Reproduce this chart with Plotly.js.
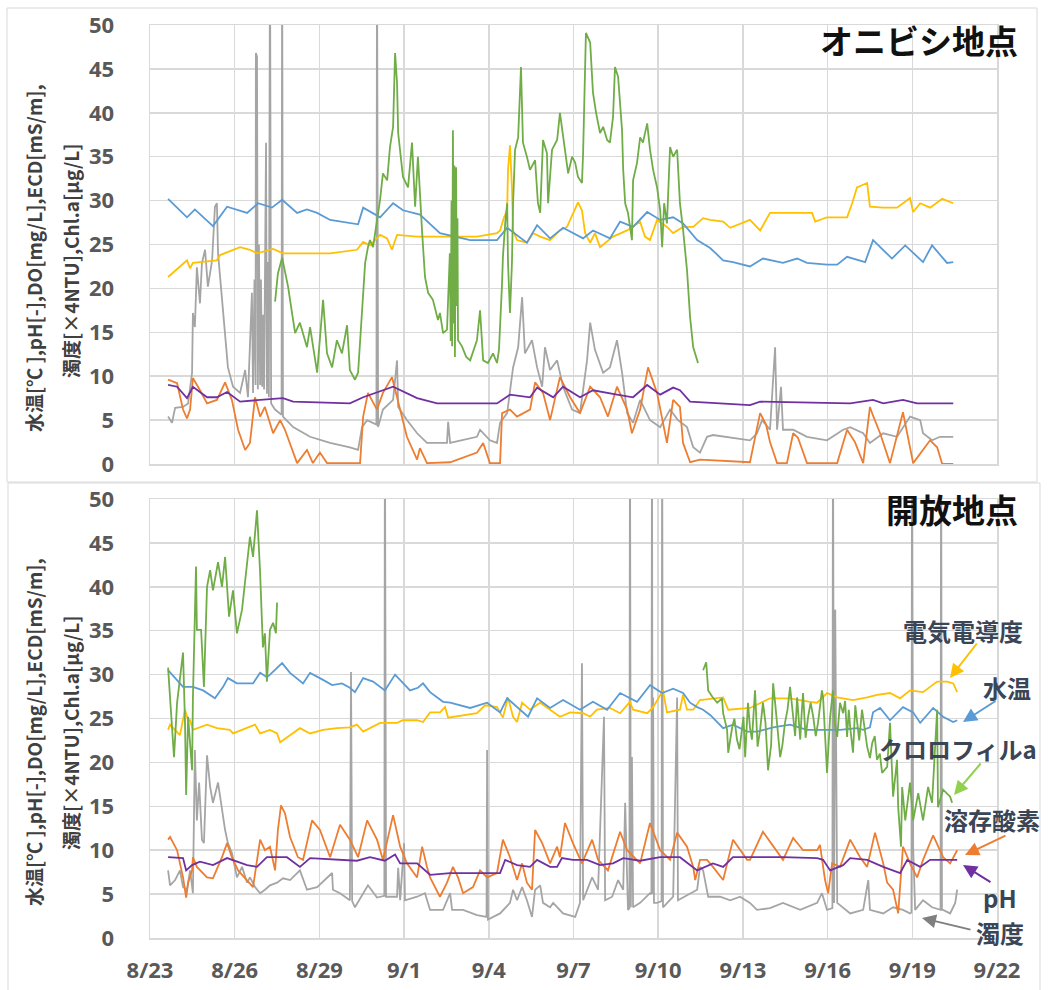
<!DOCTYPE html>
<html>
<head>
<meta charset="utf-8">
<script src="https://cdn.plot.ly/plotly-3.0.1.min.js"></script>
<style>html,body{margin:0;padding:0;background:#fff;}#chart{width:1051px;height:990px;}</style>
</head>
<body>
<div id="chart"></div>
<script>
// ---- axis ticks (days since 8/23) ----
const tickDays = [0,3,6,9,12,15,18,21,24,27,30];
const tickLabels = ['8/23','8/26','8/29','9/1','9/4','9/7','9/10','9/13','9/16','9/19','9/22'];
const yTicks = [0,5,10,15,20,25,30,35,40,45,50];

// ---- オニビシ地点 : [day, value] ----
const oniTemp = [[0.64,30.2],[1.31,28.1],[1.59,29.0],[2.23,27.1],[2.73,29.3],[3.44,28.6],[3.83,29.7],[4.32,29.2],[4.68,30.1],[5.21,28.6],[5.56,29.0],[5.92,28.6],[6.38,27.8],[7.19,27.4],[7.37,27.3],[7.55,29.2],[8.15,28.1],[8.61,29.7],[8.96,28.9],[9.56,28.4],[10.27,26.3],[11.34,25.5],[12.29,25.5],[12.65,26.9],[13.35,25.2],[13.71,27.2],[14.17,25.7],[14.63,26.9],[15.34,25.7],[15.69,26.6],[16.29,25.7],[16.65,27.6],[17.11,27.0],[17.61,28.7],[18.07,27.8],[18.53,28.1],[18.88,27.4],[19.38,25.5],[19.84,24.6],[20.30,23.2],[20.65,23.0],[21.25,22.5],[21.50,23.0],[21.71,23.4],[22.42,22.9],[22.92,23.4],[23.27,22.9],[23.98,22.7],[24.34,22.7],[24.69,23.6],[25.33,23.0],[25.61,25.5],[26.28,23.4],[26.75,24.9],[27.38,23.0],[27.70,24.9],[28.23,22.9],[28.45,23.0]];
const oniEcd = [[0.64,21.3],[1.31,23.2],[1.42,22.3],[1.52,22.9],[2.37,23.2],[2.48,23.8],[3.19,24.7],[3.54,24.4],[3.79,24.0],[4.36,24.5],[4.71,24.0],[6.38,24.0],[7.33,24.4],[7.55,25.3],[7.79,24.9],[8.15,26.1],[8.40,25.7],[8.57,24.4],[8.75,26.1],[9.46,25.9],[10.27,25.9],[11.58,25.9],[12.29,26.3],[12.40,26.6],[12.54,28.1],[12.65,28.9],[12.68,33.5],[12.75,36.3],[12.82,31.5],[12.86,26.6],[13.00,25.5],[13.35,25.2],[13.57,26.3],[13.82,25.9],[14.17,25.5],[14.52,26.6],[14.77,27.0],[14.98,28.6],[15.16,29.8],[15.30,28.9],[15.41,26.3],[15.59,25.2],[15.76,26.3],[15.94,24.7],[16.40,25.9],[16.90,26.6],[17.36,27.6],[17.53,25.9],[17.71,25.5],[17.96,27.8],[18.31,27.0],[18.53,26.3],[18.88,27.0],[19.24,27.0],[19.59,28.0],[19.84,27.8],[20.30,27.6],[20.55,26.9],[21.25,27.8],[21.61,26.6],[21.96,28.6],[23.03,28.6],[23.45,28.6],[23.56,27.6],[23.98,28.1],[24.69,28.1],[24.87,29.7],[25.04,31.5],[25.40,32.0],[25.50,29.3],[25.97,29.2],[26.46,29.2],[26.92,30.3],[27.03,28.7],[27.28,29.7],[27.63,29.2],[28.06,30.2],[28.45,29.7]];
const oniPh = [[0.64,9.0],[0.96,8.8],[1.31,7.5],[1.52,8.8],[2.02,7.6],[2.37,7.6],[2.73,8.2],[3.19,7.1],[3.90,7.3],[4.71,7.5],[5.07,7.1],[7.08,6.9],[7.55,7.6],[8.61,8.8],[9.46,7.5],[10.17,6.9],[12.29,6.9],[12.75,7.9],[13.46,7.6],[13.71,8.7],[14.28,7.6],[14.63,8.8],[15.23,7.6],[15.69,8.4],[16.54,7.9],[17.11,7.6],[17.61,9.0],[18.07,7.9],[18.53,8.7],[18.77,8.4],[19.13,7.1],[20.09,6.9],[21.25,6.7],[21.61,7.1],[24.80,6.9],[25.61,7.3],[25.97,6.9],[26.67,7.3],[27.17,6.9],[28.45,6.9]];
const oniDo = [[0.64,9.6],[0.96,9.2],[1.17,6.2],[1.31,5.2],[1.42,6.2],[1.52,9.8],[1.77,8.4],[2.02,6.9],[2.37,7.3],[2.66,9.3],[2.90,7.3],[3.12,3.9],[3.37,1.6],[3.54,2.4],[3.72,7.6],[3.90,5.4],[4.07,6.5],[4.36,3.5],[4.61,5.0],[4.78,3.9],[5.21,0.1],[5.56,1.6],[5.77,0.1],[6.02,1.3],[6.27,0.1],[7.33,0.1],[7.44,0.1],[7.55,5.4],[7.72,8.1],[8.04,6.2],[8.25,8.1],[8.57,9.9],[8.75,7.6],[9.10,3.1],[9.46,0.5],[9.56,1.8],[9.81,0.1],[10.63,0.2],[11.58,1.3],[11.80,2.4],[12.04,0.1],[12.40,0.1],[12.47,5.8],[12.75,6.2],[13.00,5.4],[13.46,6.2],[13.64,9.3],[13.92,8.1],[14.17,5.0],[14.52,9.9],[14.88,7.6],[15.23,5.8],[15.59,8.8],[15.94,7.6],[16.22,5.4],[16.54,8.8],[16.90,6.2],[17.07,3.5],[17.36,6.2],[17.64,11.0],[17.96,8.1],[18.31,2.4],[18.53,7.3],[18.77,6.5],[18.88,2.4],[19.13,0.2],[19.48,0.5],[21.25,0.2],[21.61,5.8],[21.82,4.5],[21.96,2.5],[22.21,0.1],[22.56,0.1],[22.78,3.5],[22.95,3.0],[23.27,0.1],[24.34,0.1],[24.69,3.9],[24.97,2.5],[25.26,0.1],[25.50,6.5],[25.61,5.5],[25.86,3.5],[26.21,0.1],[26.67,5.9],[26.78,4.0],[27.03,0.1],[27.63,2.7],[27.88,1.9],[28.06,0.0],[28.45,0.0]];
const oniChl = [[4.43,18.5],[4.53,21.7],[4.68,23.5],[4.78,21.7],[4.89,20.2],[5.03,17.2],[5.14,14.9],[5.31,16.1],[5.56,13.3],[5.67,15.6],[5.92,10.4],[6.13,18.7],[6.27,12.6],[6.45,11.0],[6.62,14.1],[6.80,12.6],[6.98,15.8],[7.08,10.7],[7.26,9.6],[7.37,10.4],[7.51,17.5],[7.62,22.9],[7.72,24.7],[7.79,25.5],[7.90,24.7],[8.15,30.1],[8.25,33.1],[8.40,32.3],[8.50,36.1],[8.61,38.4],[8.68,46.8],[8.75,43.4],[8.79,37.7],[8.96,32.7],[9.14,31.5],[9.28,36.6],[9.39,29.3],[9.49,35.0],[9.64,26.3],[9.74,21.3],[9.85,19.5],[10.02,18.7],[10.20,16.4],[10.27,17.2],[10.38,14.9],[10.52,15.3],[10.62,24.0],[10.65,14.0],[10.68,30.0],[10.70,13.4],[10.73,38.0],[10.76,16.0],[10.78,34.0],[10.80,12.2],[10.84,33.8],[10.87,18.0],[10.89,28.0],[10.91,14.1],[11.05,13.4],[11.20,12.2],[11.34,11.8],[11.58,14.1],[11.69,17.5],[11.80,11.8],[11.97,11.5],[12.15,12.6],[12.29,11.5],[12.36,13.0],[12.47,20.6],[12.50,23.6],[12.58,27.4],[12.65,29.7],[12.68,22.9],[12.75,17.2],[12.82,22.9],[12.86,29.7],[12.93,35.8],[13.04,37.2],[13.14,45.2],[13.21,36.6],[13.35,35.0],[13.46,33.5],[13.64,34.6],[13.74,29.7],[13.82,28.6],[13.92,36.9],[14.06,35.4],[14.10,29.7],[14.24,35.8],[14.42,36.9],[14.52,40.0],[14.63,37.2],[14.77,33.8],[14.81,33.1],[14.95,35.0],[15.06,34.3],[15.16,32.7],[15.30,32.0],[15.34,35.4],[15.44,49.1],[15.59,48.0],[15.69,42.3],[15.80,40.0],[15.94,37.7],[16.05,38.4],[16.19,36.9],[16.29,36.6],[16.40,39.5],[16.47,45.2],[16.58,44.1],[16.72,38.0],[16.76,33.5],[16.83,29.7],[16.93,28.6],[17.07,25.5],[17.11,32.3],[17.25,34.3],[17.36,37.2],[17.46,36.6],[17.61,38.8],[17.71,35.8],[17.82,33.5],[17.96,31.5],[18.07,28.9],[18.14,24.7],[18.21,29.7],[18.31,27.4],[18.42,36.1],[18.53,35.0],[18.67,35.8],[18.77,29.7],[18.88,26.7],[19.02,22.1],[19.13,16.7],[19.24,13.3],[19.41,11.5]];
const oniTurb = [[0.64,5.4],[0.78,4.7],[0.89,6.4],[1.17,6.5],[1.35,6.9],[1.49,10.4],[1.52,17.2],[1.59,15.6],[1.66,22.4],[1.77,18.3],[1.84,22.9],[1.95,24.4],[2.05,20.2],[2.20,23.2],[2.30,29.3],[2.37,29.7],[2.41,24.0],[2.55,19.0],[2.66,15.3],[2.76,11.0],[2.94,8.8],[3.19,8.1],[3.37,10.7],[3.47,7.6],[3.61,19.5],[3.65,8.1],[3.70,21.0],[3.74,9.0],[3.75,46.8],[3.79,46.4],[3.82,8.5],[3.86,25.0],[3.90,9.0],[3.93,21.0],[3.97,8.8],[4.00,17.0],[4.04,8.5],[4.11,36.6],[4.14,8.0],[4.18,23.0],[4.21,7.6],[4.25,60],[4.29,6.9],[4.43,6.2],[4.66,5.6],[4.68,60],[4.71,5.4],[5.07,4.2],[5.67,3.1],[6.38,2.4],[7.08,1.9],[7.37,1.6],[7.51,4.2],[7.69,5.0],[8.02,4.5],[8.04,60],[8.08,4.2],[8.25,6.2],[8.61,7.3],[8.75,11.8],[8.79,6.5],[9.10,5.0],[9.46,3.5],[9.81,2.4],[10.52,2.4],[10.56,4.8],[10.63,2.4],[11.58,3.1],[11.69,3.9],[12.04,2.7],[12.29,2.4],[12.40,4.7],[12.65,5.8],[12.86,11.0],[13.04,13.3],[13.18,19.0],[13.28,12.6],[13.53,14.1],[13.71,11.0],[13.89,8.8],[13.99,13.3],[14.17,10.7],[14.42,11.8],[14.63,8.8],[14.95,6.2],[15.23,5.8],[15.48,11.8],[15.59,16.1],[15.76,13.0],[16.05,10.4],[16.29,11.0],[16.54,14.1],[16.72,10.4],[16.90,5.8],[17.11,4.7],[17.36,7.3],[17.71,5.0],[18.07,4.2],[18.42,6.2],[18.70,5.0],[19.02,4.2],[19.24,1.9],[19.48,1.3],[19.73,3.1],[19.94,3.3],[20.44,3.1],[21.25,2.7],[21.50,3.5],[21.68,5.0],[21.96,3.9],[22.14,13.3],[22.21,3.9],[22.35,8.8],[22.42,3.9],[22.78,3.9],[23.27,3.1],[23.98,2.7],[24.55,3.9],[24.80,4.2],[25.26,3.5],[25.50,2.4],[25.97,3.5],[26.46,3.1],[26.92,5.4],[27.28,5.0],[27.38,3.5],[27.70,2.7],[27.98,3.1],[28.45,3.1]];

// ---- 開放地点 : [day, value] ----
const kaiTemp = [[0.64,30.5],[1.17,28.6],[1.52,28.6],[1.88,28.2],[2.30,27.3],[2.59,28.6],[2.76,29.6],[3.08,29.0],[3.65,29.0],[3.90,30.2],[4.14,29.7],[4.25,30.0],[4.68,31.3],[4.96,30.2],[5.42,29.0],[5.67,30.2],[6.13,29.4],[6.45,28.8],[6.80,29.0],[7.08,28.5],[7.26,28.0],[7.55,29.6],[7.90,29.2],[8.32,28.2],[8.68,30.0],[9.21,28.2],[9.49,28.5],[9.67,29.0],[9.92,28.0],[10.38,26.9],[10.63,26.8],[11.34,26.2],[11.94,26.8],[12.40,25.7],[12.65,27.3],[13.00,26.3],[13.39,25.2],[13.71,27.3],[14.17,26.2],[14.63,27.1],[15.23,26.0],[15.69,26.9],[16.19,26.0],[16.65,27.9],[17.25,26.9],[17.71,28.8],[18.14,27.9],[18.53,28.4],[18.88,27.9],[19.13,26.8],[19.38,26.3],[19.59,26.0],[19.84,25.4],[20.30,23.9],[20.65,24.3],[21.15,23.5],[21.50,23.5],[22.07,24.0],[22.67,24.3],[23.27,23.7],[23.84,23.7],[24.44,23.7],[25.04,23.9],[25.26,23.7],[25.50,24.0],[25.61,25.7],[25.86,26.2],[26.21,24.8],[26.67,26.3],[27.03,25.7],[27.28,24.5],[27.74,26.2],[28.09,25.2],[28.45,24.6],[28.59,24.8]];
const kaiEcd = [[0.64,23.7],[0.71,24.3],[1.06,23.1],[1.24,26.0],[1.35,24.8],[1.42,24.8],[1.52,23.7],[2.02,24.3],[2.37,23.9],[2.83,23.7],[2.94,23.3],[3.54,24.0],[3.72,24.3],[3.90,23.3],[4.25,23.7],[4.50,23.3],[4.61,22.3],[4.96,23.1],[5.31,23.9],[5.67,23.3],[6.13,23.7],[6.62,23.9],[7.08,24.0],[7.33,24.3],[7.55,23.5],[8.15,24.5],[8.75,24.5],[8.96,24.8],[9.46,24.8],[9.67,24.6],[9.92,25.7],[10.27,25.7],[10.45,26.3],[10.56,25.1],[11.09,25.4],[11.58,25.6],[11.87,26.5],[12.29,26.3],[12.50,25.1],[12.68,27.4],[12.86,25.2],[13.00,24.6],[13.18,26.8],[13.46,26.0],[13.82,26.8],[14.17,26.0],[14.52,25.2],[14.88,25.7],[15.34,25.6],[15.59,25.2],[15.83,26.0],[16.29,26.2],[16.65,25.6],[17.00,26.9],[17.11,26.0],[17.61,25.6],[17.82,26.3],[18.17,28.2],[18.31,25.7],[18.77,26.0],[18.88,27.7],[19.02,26.0],[19.24,26.0],[19.48,27.1],[20.30,27.4],[20.48,26.0],[21.25,26.2],[21.96,27.3],[22.67,27.3],[23.38,26.9],[23.63,26.8],[23.98,27.9],[24.34,27.4],[24.90,27.1],[25.40,27.4],[25.75,27.7],[26.21,27.9],[26.57,27.3],[26.92,28.2],[27.38,28.0],[27.88,29.2],[28.23,29.2],[28.45,29.0],[28.59,28.0]];
const kaiPh = [[0.64,9.2],[1.17,9.1],[1.28,7.7],[1.49,8.3],[1.77,8.7],[2.23,8.3],[2.73,9.1],[3.44,8.3],[3.79,8.1],[4.14,9.2],[4.85,9.2],[5.31,8.1],[5.67,9.1],[6.38,9.0],[7.33,8.8],[7.79,9.2],[8.32,8.8],[8.68,9.5],[8.86,8.5],[9.46,8.5],[9.92,7.2],[10.63,7.4],[11.69,7.4],[12.40,7.4],[12.58,8.9],[13.00,8.3],[13.46,8.1],[13.71,8.9],[14.17,8.1],[14.42,8.1],[14.59,9.1],[14.98,8.9],[15.48,8.9],[15.94,8.3],[16.40,8.5],[16.76,9.1],[17.36,8.8],[18.07,9.2],[18.77,9.2],[19.24,8.1],[19.38,7.7],[19.94,8.5],[20.30,8.1],[20.65,9.2],[21.61,9.2],[22.42,9.2],[23.63,9.1],[23.84,8.9],[24.09,7.7],[24.55,8.3],[24.80,9.1],[25.40,8.9],[25.97,8.1],[26.57,7.4],[26.82,8.9],[27.28,8.1],[27.63,8.9],[28.59,8.9]];
const kaiDo = [[0.64,11.2],[0.71,11.5],[0.96,10.0],[1.17,6.9],[1.28,4.6],[1.35,6.3],[1.49,7.7],[1.52,9.2],[1.66,8.1],[2.02,6.9],[2.23,6.8],[2.55,9.2],[2.73,10.8],[2.90,9.2],[3.12,7.7],[3.44,6.6],[3.65,5.8],[3.90,11.2],[4.07,10.0],[4.25,10.4],[4.43,7.7],[4.53,12.3],[4.64,15.1],[4.78,14.2],[4.96,11.5],[5.24,9.2],[5.42,8.9],[5.74,13.4],[6.02,12.3],[6.38,9.2],[6.73,12.9],[7.08,11.2],[7.37,9.2],[7.69,13.4],[8.04,11.2],[8.25,8.9],[8.61,14.0],[8.86,10.4],[9.10,8.5],[9.46,6.9],[9.64,10.4],[9.81,8.1],[9.92,6.9],[10.27,4.7],[10.52,6.3],[10.73,8.1],[10.91,6.9],[11.09,5.1],[11.44,5.8],[11.69,7.7],[11.94,6.9],[12.29,7.4],[12.50,11.2],[12.75,9.2],[13.00,6.6],[13.18,8.5],[13.35,6.3],[13.53,5.5],[13.64,12.3],[13.89,10.8],[14.17,8.5],[14.42,10.4],[14.52,9.2],[14.70,13.1],[14.98,10.8],[15.30,8.5],[15.66,11.2],[15.87,8.9],[16.22,7.7],[16.65,12.1],[16.90,10.0],[17.36,8.5],[17.71,13.1],[18.07,10.0],[18.42,8.9],[18.67,12.0],[19.02,10.4],[19.24,8.1],[19.31,6.6],[19.48,8.9],[19.73,8.9],[19.94,8.1],[20.30,6.6],[20.65,11.2],[21.15,8.9],[21.25,8.9],[21.71,12.1],[22.42,8.9],[22.78,11.4],[23.13,10.0],[23.63,10.0],[23.73,10.6],[23.91,6.6],[24.02,5.1],[24.16,8.5],[24.44,8.1],[24.80,11.2],[25.15,9.2],[25.40,8.1],[25.68,12.0],[25.97,8.5],[26.11,6.3],[26.32,5.5],[26.50,2.8],[26.67,10.4],[26.92,8.5],[27.17,6.9],[27.38,8.9],[27.74,11.7],[28.09,9.2],[28.34,8.5],[28.59,10.0]];
const kaiChlA = [[0.64,30.8],[0.78,24.5],[0.85,20.6],[0.96,26.8],[1.06,29.7],[1.17,32.5],[1.24,24.5],[1.28,16.3],[1.35,25.2],[1.49,19.1],[1.52,27.4],[1.63,42.3],[1.66,35.1],[1.81,35.1],[1.91,28.6],[2.02,40.0],[2.13,41.9],[2.23,39.6],[2.41,42.8],[2.55,40.0],[2.66,43.4],[2.80,36.6],[2.94,39.6],[3.08,34.7],[3.26,37.4],[3.44,42.3],[3.54,45.7],[3.65,43.4],[3.79,48.7],[3.90,41.6],[4.00,33.1],[4.07,34.7],[4.14,29.2],[4.25,35.1],[4.36,35.9],[4.46,34.7],[4.50,38.2]];
const kaiChlB = [[19.59,30.5],[19.70,31.4],[19.77,28.2],[19.91,27.5],[20.09,26.8],[20.26,27.3],[20.30,25.6],[20.44,23.7],[20.48,21.1],[20.62,24.0],[20.70,25.0],[20.79,22.6],[20.88,21.5],[20.97,23.7],[21.02,25.2],[21.08,20.6],[21.18,26.8],[21.25,24.0],[21.32,22.6],[21.43,28.2],[21.52,21.8],[21.61,23.7],[21.71,26.8],[21.80,24.5],[21.89,19.1],[22.00,22.0],[22.07,29.0],[22.15,26.5],[22.21,24.5],[22.32,20.6],[22.40,22.0],[22.49,24.5],[22.58,26.0],[22.67,28.6],[22.78,25.2],[22.85,23.0],[22.92,27.4],[23.03,22.6],[23.08,25.5],[23.13,27.9],[23.22,22.8],[23.31,25.2],[23.40,26.8],[23.49,25.2],[23.58,23.0],[23.66,24.5],[23.80,28.2],[23.84,27.4],[23.98,18.8],[24.09,25.2],[24.19,28.2],[24.25,24.5],[24.34,22.9],[24.44,26.8],[24.55,25.6],[24.62,27.0],[24.69,22.9],[24.75,26.0],[24.80,24.0],[24.90,21.1],[24.98,26.5],[25.04,24.8],[25.12,22.5],[25.22,26.0],[25.30,24.0],[25.40,21.8],[25.50,20.5],[25.58,22.2],[25.67,23.0],[25.75,20.3],[25.85,21.0],[25.93,18.8],[26.11,19.5],[26.21,24.5],[26.32,16.1],[26.46,20.3],[26.50,14.9],[26.60,10.4],[26.64,17.2],[26.75,13.4],[26.92,17.7],[27.03,13.4],[27.21,16.5],[27.38,13.4],[27.56,17.2],[27.70,15.4],[27.88,26.0],[27.91,14.9],[28.09,16.9],[28.34,16.1],[28.41,15.4]];
const kaiTurb = [[0.64,7.7],[0.71,6.0],[0.89,6.6],[1.06,7.7],[1.17,5.8],[1.31,5.5],[1.42,7.7],[1.52,5.1],[1.59,21.4],[1.66,13.4],[1.74,17.7],[1.84,11.2],[1.91,10.8],[2.02,20.8],[2.13,17.2],[2.23,15.4],[2.41,17.7],[2.55,14.6],[2.66,12.3],[2.76,10.8],[2.90,9.7],[3.08,6.9],[3.26,8.1],[3.44,6.3],[3.54,6.9],[3.72,5.8],[3.90,5.1],[4.07,5.5],[4.25,6.0],[4.50,6.3],[4.71,6.8],[4.96,6.6],[5.31,7.7],[5.56,5.5],[5.92,5.8],[6.45,7.4],[6.48,5.5],[6.73,5.1],[7.08,4.3],[7.12,30.3],[7.16,4.2],[7.26,3.5],[7.55,5.1],[7.72,6.0],[8.04,4.6],[8.30,4.8],[8.32,60],[8.36,4.7],[8.75,4.7],[8.79,8.0],[8.86,4.3],[9.00,10.8],[9.03,4.3],[9.46,4.7],[9.74,5.1],[9.92,3.2],[10.38,3.2],[10.63,5.1],[10.70,3.2],[11.09,3.2],[11.58,2.6],[11.92,2.4],[11.94,21.4],[11.97,2.1],[12.40,2.8],[12.75,4.0],[12.86,5.5],[13.00,4.3],[13.18,5.8],[13.35,4.3],[13.53,2.4],[13.64,5.5],[13.82,6.0],[13.92,4.0],[14.17,3.5],[14.28,4.0],[14.63,2.8],[14.88,2.6],[15.06,2.4],[15.23,4.0],[15.30,31.3],[15.34,4.3],[15.66,6.9],[15.87,5.5],[16.08,25.2],[16.12,4.3],[16.37,4.7],[16.58,6.6],[16.76,5.5],[16.83,15.4],[16.93,3.2],[16.98,3.4],[17.00,60],[17.03,3.5],[17.07,20.6],[17.11,3.5],[17.36,4.0],[17.71,5.1],[17.76,5.0],[17.78,60],[17.80,5.0],[17.82,27.4],[17.85,4.0],[17.96,4.0],[18.12,4.2],[18.14,60],[18.17,3.5],[18.53,4.7],[18.67,27.4],[18.70,4.3],[19.13,5.1],[19.38,5.5],[19.48,8.1],[19.59,7.7],[19.77,4.7],[20.19,4.7],[20.55,4.3],[20.90,4.7],[21.25,4.0],[21.50,3.2],[21.96,3.4],[22.42,4.0],[23.03,3.2],[23.63,4.0],[23.80,5.1],[23.98,3.2],[24.17,3.4],[24.19,60],[24.23,4.0],[24.27,37.4],[24.34,4.0],[24.80,2.8],[25.26,3.2],[25.44,6.6],[25.50,3.2],[25.97,2.8],[26.32,3.5],[26.67,3.2],[26.92,2.8],[26.97,2.9],[26.99,60],[27.03,10.4],[27.10,3.2],[27.38,4.3],[27.70,3.5],[27.98,3.2],[28.00,3.2],[28.02,60],[28.05,3.2],[28.09,3.2],[28.34,2.8],[28.52,4.0],[28.59,5.5]];

const colors = {temp:'#5B9BD5', ecd:'#FFC000', chl:'#70AD47', dox:'#ED7D31', ph:'#7030A0', turb:'#A5A5A5'};

function tr(data, xa, ya, color, w) {
  return {x: data.map(d=>d[0]), y: data.map(d=>d[1]), xaxis: xa, yaxis: ya,
    type:'scatter', mode:'lines', line:{color:color, width:w||1.8}, hoverinfo:'skip', showlegend:false};
}

const traces = [
  tr(oniTurb,'x','y',colors.turb,1.8),
  tr(oniDo,'x','y',colors.dox),
  tr(oniPh,'x','y',colors.ph),
  tr(oniEcd,'x','y',colors.ecd),
  tr(oniTemp,'x','y',colors.temp),
  tr(oniChl,'x','y',colors.chl),
  tr(kaiTurb,'x2','y2',colors.turb,1.8),
  tr(kaiDo,'x2','y2',colors.dox),
  tr(kaiPh,'x2','y2',colors.ph),
  tr(kaiEcd,'x2','y2',colors.ecd),
  tr(kaiTemp,'x2','y2',colors.temp),
  tr(kaiChlA,'x2','y2',colors.chl),
  tr(kaiChlB,'x2','y2',colors.chl)
];

const W = 1051, H = 990;
const px = v => v / W;
const py = v => 1 - v / H;
const tickFont = {family:'Noto Sans, sans-serif', size:22, color:'#595959', weight:'bold'};
const gridC = '#D9D9D9';

function xax(showLabels, anchor) {
  return {range:[0,30], domain:[px(150), px(997)], anchor:anchor, tickmode:'array', tickvals:tickDays,
    ticktext: tickLabels, showticklabels: showLabels, tickfont:tickFont, ticks:'', showgrid:true,
    gridcolor:gridC, gridwidth:1.5, showline:true, mirror:true, linecolor:gridC, linewidth:1.5,
    zeroline:false, ticklabelstandoff:12, fixedrange:true};
}
function yax(dom, anchor) {
  return {range:[0,50], domain:dom, anchor:anchor, tickmode:'array', tickvals:yTicks, tickfont:tickFont,
    ticks:'', showgrid:true, gridcolor:gridC, gridwidth:1.5, showline:true, mirror:true, linecolor:gridC,
    linewidth:1.5, zeroline:false, ticklabelstandoff:30, fixedrange:true};
}

const labelFont = {family:'Noto Sans CJK JP, sans-serif', size:19, color:'#404040', weight:'bold'};
const annFont = {family:'Noto Sans CJK JP, sans-serif', size:24, color:'#3A4556', weight:'bold'};
const titleFont = {family:'Noto Sans CJK JP, sans-serif', size:33, color:'#111111', weight:'bold'};
const yLine1 = '水温[℃ ],pH[-],DO[mg/L],ECD[mS/m],';
const yLine2 = '濁度[×4NTU],Chl.a[μg/L]';

function txt(text, x, y, font, opts) {
  return Object.assign({text:text, xref:'paper', yref:'paper', x:px(x), y:py(y), showarrow:false,
    font:font, xanchor:'center', yanchor:'middle'}, opts||{});
}
function arrow(tipX, tipY, tailX, tailY, color) {
  return {text:'', xref:'paper', yref:'paper', x:px(tipX), y:py(tipY), ax:tailX-tipX, ay:tailY-tipY,
    showarrow:true, arrowhead:2, arrowsize:1.4, arrowwidth:2, arrowcolor:color, standoff:0, startstandoff:0};
}

const annotations = [
  txt(yLine1, 33, 258, labelFont, {textangle:-90}),
  txt(yLine2, 70, 261, labelFont, {textangle:-90}),
  txt(yLine1, 33, 732, labelFont, {textangle:-90}),
  txt(yLine2, 70, 733, labelFont, {textangle:-90}),
  txt('オニビシ地点', 1020, 40, titleFont, {xanchor:'right'}),
  txt('開放地点', 1020, 509, titleFont, {xanchor:'right'}),
  txt('電気電導度', 963, 630, annFont),
  txt('水温', 1007, 687, annFont),
  txt('クロロフィルa', 958, 748, annFont),
  txt('溶存酸素', 992, 819, annFont),
  txt('pH', 1000, 897, annFont),
  txt('濁度', 1000, 932, annFont),
  arrow(950, 678, 978, 642, colors.ecd),
  arrow(963, 722, 997, 700, colors.temp),
  arrow(954, 795, 982, 762, '#92D050'),
  arrow(965, 855, 1007, 835, colors.dox),
  arrow(963, 865, 992, 883, colors.ph),
  arrow(922, 918, 972, 930, '#7F7F7F')
];

const shapes = [
  {type:'rect', xref:'paper', yref:'paper', x0:px(7), x1:px(1037), y0:py(482), y1:py(8), line:{color:'#D9D9D9', width:1}},
  {type:'rect', xref:'paper', yref:'paper', x0:px(8), x1:px(1040), y0:py(1000), y1:py(483), line:{color:'#D9D9D9', width:1}}
];

const layout = {
  width:W, height:H, margin:{l:0,r:0,t:0,b:0}, paper_bgcolor:'#ffffff', plot_bgcolor:'#ffffff',
  showlegend:false,
  xaxis: xax(false,'y'),
  yaxis: yax([py(464), py(25)], 'x'),
  xaxis2: xax(true,'y2'),
  yaxis2: yax([py(938), py(499)], 'x2'),
  annotations: annotations,
  shapes: shapes
};

Plotly.newPlot('chart', traces, layout, {displayModeBar:false, staticPlot:true});
</script>
</body>
</html>
